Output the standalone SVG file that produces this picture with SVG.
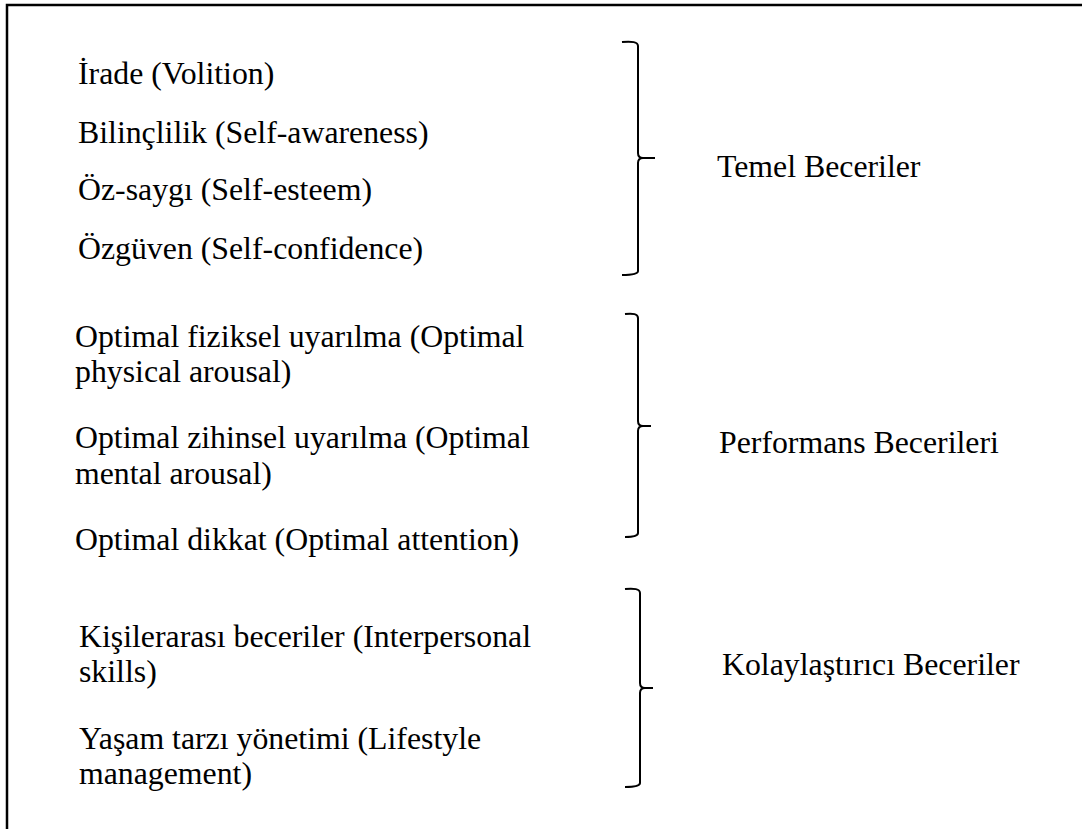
<svg xmlns="http://www.w3.org/2000/svg" width="1082" height="829" viewBox="0 0 1082 829">
<style>
text{font-family:"Liberation Serif","Times New Roman",serif;font-size:31.8px;fill:#000}
.br{fill:none;stroke:#000;stroke-width:2;stroke-linejoin:round}
</style>
<rect width="1082" height="829" fill="#fff"/>
<path d="M7,829 L7,5 L1082,5" fill="none" stroke="#000" stroke-width="2.5"/>
<g id="temel-items">
<text x="78" y="84">İrade (Volition)</text>
<text x="78" y="143">Bilinçlilik (Self-awareness)</text>
<text x="78" y="200">Öz-saygı (Self-esteem)</text>
<text x="78" y="259">Özgüven (Self-confidence)</text>
</g>
<g id="performans-items">
<text x="75" y="347">Optimal fiziksel uyarılma (Optimal</text>
<text x="75" y="382">physical arousal)</text>
<text x="75" y="448">Optimal zihinsel uyarılma (Optimal</text>
<text x="75" y="484">mental arousal)</text>
<text x="75" y="550">Optimal dikkat (Optimal attention)</text>
</g>
<g id="kolaylastirici-items">
<text x="79" y="647">Kişilerarası beceriler (Interpersonal</text>
<text x="79" y="682">skills)</text>
<text x="79" y="749">Yaşam tarzı yönetimi (Lifestyle</text>
<text x="79" y="784">management)</text>
</g>
<g id="connectors">
<path class="br" d="M622,42 C632,41 638,42 638,46 L638,153 C638,156 640,158 643,158 L655,158 M643,158 C640,158 638,160 638,163 L638,271 C638,274 632,275 622,275"/>
<path class="br" d="M625,314 C633,313 638,314 638,318 L638,421 C638,424 640,426 643,426 L651,426 M643,426 C640,426 638,428 638,431 L638,533 C638,536 633,537 625,537"/>
<path class="br" d="M625,589 C634,588 640,589 640,593 L640,683 C640,686 642,688 645,688 L653,688 M645,688 C642,688 640,690 640,693 L640,783 C640,786 634,787 625,787"/>
</g>
<g id="temel"><text x="717" y="177">Temel Beceriler</text></g>
<g id="performans"><text x="719" y="453">Performans Becerileri</text></g>
<g id="kolaylastirici"><text x="722" y="675">Kolaylaştırıcı Beceriler</text></g>
</svg>
